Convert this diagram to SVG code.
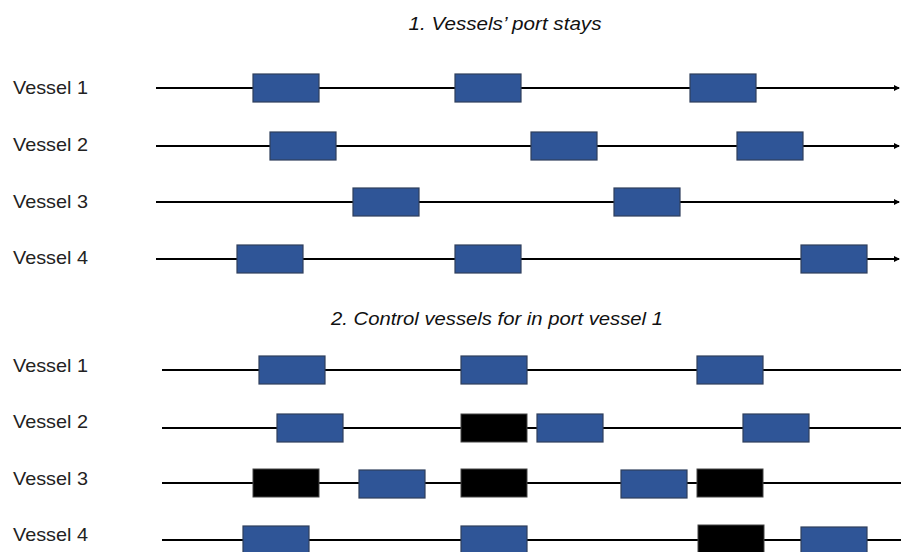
<svg xmlns="http://www.w3.org/2000/svg" width="901" height="552" viewBox="0 0 901 552">
<style>
.lbl{font-family:"Liberation Sans",Arial,sans-serif;font-size:19px;fill:#222}
.ttl{font-family:"Liberation Sans",Arial,sans-serif;font-size:18px;font-style:italic;fill:#111;text-anchor:middle}
.ln{stroke:#000;stroke-width:2;fill:none}
.b{fill:#2F5597;stroke:#2F3F5C;stroke-width:1.2}
.k{fill:#000;stroke:#444;stroke-width:1}
</style>
<defs>
<marker id="ar" viewBox="0 0 6 6" refX="5" refY="3" markerWidth="3" markerHeight="3" orient="auto" markerUnits="strokeWidth">
<path d="M0,0 L6,3 L0,6 z" fill="#000"/>
</marker>
</defs>
<text class="ttl" x="505" y="30" textLength="193" lengthAdjust="spacingAndGlyphs">1. Vessels’ port stays</text>
<text class="ttl" x="497" y="325" textLength="332" lengthAdjust="spacingAndGlyphs">2. Control vessels for in port vessel 1</text>
<g id="connectors">
<line class="ln" x1="156" y1="88" x2="899" y2="88" marker-end="url(#ar)"/>
<line class="ln" x1="156" y1="146" x2="899" y2="146" marker-end="url(#ar)"/>
<line class="ln" x1="156" y1="202" x2="899" y2="202" marker-end="url(#ar)"/>
<line class="ln" x1="156" y1="259" x2="899" y2="259" marker-end="url(#ar)"/>
<line class="ln" x1="162" y1="370" x2="901" y2="370"/>
<line class="ln" x1="162" y1="428" x2="901" y2="428"/>
<line class="ln" x1="162" y1="483" x2="901" y2="483"/>
<line class="ln" x1="162" y1="540" x2="901" y2="540"/>
</g>
<g id="s1-vessel1"><text class="lbl" x="13" y="94" textLength="75" lengthAdjust="spacingAndGlyphs">Vessel 1</text>
<rect class="b" x="253" y="74" width="66" height="28"/><rect class="b" x="455" y="74" width="66" height="28"/><rect class="b" x="690" y="74" width="66" height="28"/></g>
<g id="s1-vessel2"><text class="lbl" x="13" y="151" textLength="75" lengthAdjust="spacingAndGlyphs">Vessel 2</text>
<rect class="b" x="270" y="132" width="66" height="28"/><rect class="b" x="531" y="132" width="66" height="28"/><rect class="b" x="737" y="132" width="66" height="28"/></g>
<g id="s1-vessel3"><text class="lbl" x="13" y="208" textLength="75" lengthAdjust="spacingAndGlyphs">Vessel 3</text>
<rect class="b" x="353" y="188" width="66" height="28"/><rect class="b" x="614" y="188" width="66" height="28"/></g>
<g id="s1-vessel4"><text class="lbl" x="13" y="264" textLength="75" lengthAdjust="spacingAndGlyphs">Vessel 4</text>
<rect class="b" x="237" y="245" width="66" height="28"/><rect class="b" x="455" y="245" width="66" height="28"/><rect class="b" x="801" y="245" width="66" height="28"/></g>
<g id="s2-vessel1"><text class="lbl" x="13" y="372" textLength="75" lengthAdjust="spacingAndGlyphs">Vessel 1</text>
<rect class="b" x="259" y="356" width="66" height="28"/><rect class="b" x="461" y="356" width="66" height="28"/><rect class="b" x="697" y="356" width="66" height="28"/></g>
<g id="s2-vessel2"><text class="lbl" x="13" y="428" textLength="75" lengthAdjust="spacingAndGlyphs">Vessel 2</text>
<rect class="b" x="277" y="414" width="66" height="28"/><rect class="k" x="461" y="414" width="66" height="28"/><rect class="b" x="537" y="414" width="66" height="28"/><rect class="b" x="743" y="414" width="66" height="28"/></g>
<g id="s2-vessel3"><text class="lbl" x="13" y="485" textLength="75" lengthAdjust="spacingAndGlyphs">Vessel 3</text>
<rect class="k" x="253" y="469" width="66" height="28"/><rect class="b" x="359" y="470" width="66" height="28"/><rect class="k" x="461" y="469" width="66" height="28"/><rect class="b" x="621" y="470" width="66" height="28"/><rect class="k" x="697" y="469" width="66" height="28"/></g>
<g id="s2-vessel4"><text class="lbl" x="13" y="541" textLength="75" lengthAdjust="spacingAndGlyphs">Vessel 4</text>
<rect class="b" x="243" y="526" width="66" height="28"/><rect class="b" x="461" y="526" width="66" height="28"/><rect class="k" x="698" y="525" width="66" height="28"/><rect class="b" x="801" y="527" width="66" height="28"/></g>
</svg>
